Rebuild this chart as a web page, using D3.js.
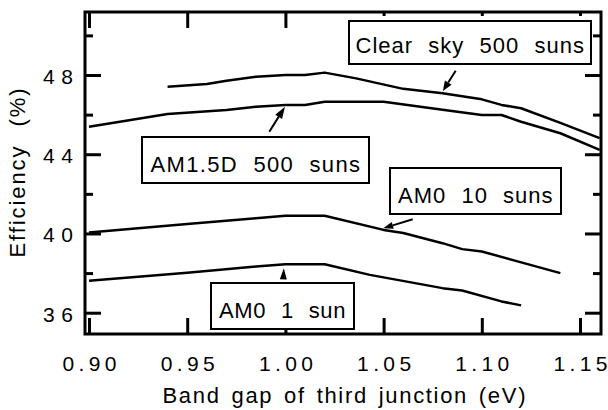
<!DOCTYPE html>
<html>
<head>
<meta charset="utf-8">
<script src="https://cdn.jsdelivr.net/npm/d3@7"></script>
<style>
  html, body { margin: 0; padding: 0; background: #fff; }
  svg text { font-family: "Liberation Sans", Arial, Helvetica, sans-serif; fill: #000; }
</style>
</head>
<body>
<svg id="chart" width="608" height="410"></svg>
<script>
// Band gap of third junction (eV) and efficiency (%) for each spectrum
const clearSkyGap = [0.94, 0.96, 0.97, 0.985, 1.00, 1.01, 1.02, 1.036, 1.06, 1.08, 1.10, 1.11, 1.12, 1.14, 1.16];
const clearSkyEff = [47.41, 47.55, 47.71, 47.91, 48.00, 48.00, 48.12, 47.83, 47.30, 47.08, 46.77, 46.49, 46.32, 45.58, 44.81];

const am15dGap = [0.90, 0.94, 0.97, 0.985, 1.00, 1.01, 1.02, 1.05, 1.08, 1.10, 1.11, 1.12, 1.14, 1.16];
const am15dEff = [45.39, 46.03, 46.23, 46.40, 46.49, 46.49, 46.65, 46.65, 46.25, 45.98, 45.98, 45.64, 45.06, 44.22];

const am0TenGap = [0.90, 0.95, 0.985, 1.00, 1.02, 1.05, 1.06, 1.08, 1.09, 1.10, 1.14];
const am0TenEff = [40.05, 40.48, 40.77, 40.89, 40.89, 40.18, 40.02, 39.51, 39.21, 39.09, 38.00];

const am0OneGap = [0.90, 0.95, 0.985, 1.00, 1.02, 1.043, 1.08, 1.09, 1.11, 1.12];
const am0OneEff = [37.61, 38.02, 38.33, 38.45, 38.45, 37.91, 37.24, 37.12, 36.57, 36.37];

const seriesNames = ["Clear sky 500 suns", "AM1.5D 500 suns", "AM0 10 suns", "AM0 1 sun"];

// Axis ticks
const xTickValues = [0.90, 0.95, 1.00, 1.05, 1.10, 1.15];
const xTickLabels = ["0.90", "0.95", "1.00", "1.05", "1.10", "1.15"];
const yTickValues = [36, 40, 44, 48];
const yTickLabels = ["36", "40", "44", "48"];
const yMinorValues = [38, 42, 46, 50];

const xTitle = "Band gap of third junction (eV)";
const yTitle = "Efficiency (%)";

// ---- layout ----
const plot = { left: 85, right: 601, top: 12, bottom: 334 };
const svg = d3.select("#chart");

const x = d3.scaleLinear().domain([0.89796, 1.16069]).range([plot.left, plot.right]);
const y = d3.scaleLinear().domain([34.925, 51.18]).range([plot.bottom, plot.top]);

const toPoints = (gx, ey) => gx.map((g, i) => [g, ey[i]]);
const series = [
  toPoints(clearSkyGap, clearSkyEff),
  toPoints(am15dGap, am15dEff),
  toPoints(am0TenGap, am0TenEff),
  toPoints(am0OneGap, am0OneEff)
];

svg.append("clipPath").attr("id", "plot-clip")
  .append("rect")
  .attr("x", plot.left).attr("y", plot.top)
  .attr("width", plot.right - plot.left).attr("height", plot.bottom - plot.top);

// ---- curves ----
const line = d3.line().x(d => x(d[0])).y(d => y(d[1]));
svg.append("g").attr("clip-path", "url(#plot-clip)")
  .selectAll("path").data(series).join("path")
  .attr("d", line)
  .attr("fill", "none")
  .attr("stroke", "#000")
  .attr("stroke-width", 2.5)
  .attr("stroke-linejoin", "round");

// ---- axes (ticks pointing inward) ----
function styleAxis(g) {
  g.select(".domain").remove();
  g.selectAll(".tick line").attr("stroke", "#000").attr("stroke-width", 3);
}

const xAxis = svg.append("g")
  .attr("transform", `translate(0,${plot.bottom})`)
  .call(d3.axisBottom(x).tickValues(xTickValues).tickSizeInner(-16).tickSizeOuter(0)
        .tickPadding(22).tickFormat((d, i) => xTickLabels[i]))
  .call(styleAxis);
xAxis.selectAll("text")
  .attr("font-size", 21)
  .attr("textLength", 54).attr("lengthAdjust", "spacing");

const yAxis = svg.append("g")
  .attr("transform", `translate(${plot.left},0)`)
  .call(d3.axisLeft(y).tickValues(yTickValues).tickSizeInner(-16).tickSizeOuter(0)
        .tickPadding(12).tickFormat((d, i) => yTickLabels[i]))
  .call(styleAxis);
yAxis.selectAll("text")
  .attr("font-size", 21)
  .attr("dy", "0.4em")
  .attr("textLength", 30).attr("lengthAdjust", "spacing");

svg.append("g")
  .attr("transform", `translate(${plot.left},0)`)
  .call(d3.axisLeft(y).tickValues(yMinorValues).tickSizeInner(-8).tickSizeOuter(0).tickFormat(""))
  .call(styleAxis);

svg.append("g")
  .attr("transform", `translate(${plot.right},0)`)
  .call(d3.axisRight(y).tickValues(yTickValues).tickSizeInner(-16).tickSizeOuter(0).tickFormat(""))
  .call(styleAxis);
svg.append("g")
  .attr("transform", `translate(${plot.right},0)`)
  .call(d3.axisRight(y).tickValues(yMinorValues).tickSizeInner(-8).tickSizeOuter(0).tickFormat(""))
  .call(styleAxis);

// top edge: long ticks on the left half, short ones on the right
svg.append("g")
  .attr("transform", `translate(0,${plot.top})`)
  .call(d3.axisTop(x).tickValues(xTickValues.slice(0, 3)).tickSizeInner(-16).tickSizeOuter(0).tickFormat(""))
  .call(styleAxis);
svg.append("g")
  .attr("transform", `translate(0,${plot.top})`)
  .call(d3.axisTop(x).tickValues(xTickValues.slice(3)).tickSizeInner(-4).tickSizeOuter(0).tickFormat(""))
  .call(styleAxis);

// frame
svg.append("rect")
  .attr("x", plot.left).attr("y", plot.top)
  .attr("width", plot.right - plot.left).attr("height", plot.bottom - plot.top)
  .attr("fill", "none").attr("stroke", "#000").attr("stroke-width", 3);

// ---- axis titles ----
svg.append("text")
  .attr("x", (plot.left + plot.right) / 2 + 1).attr("y", 403)
  .attr("text-anchor", "middle").attr("font-size", 22)
  .style("word-spacing", "3px")
  .attr("textLength", 363).attr("lengthAdjust", "spacing")
  .text(xTitle);

svg.append("text")
  .attr("transform", `translate(25,${(plot.top + plot.bottom) / 2}) rotate(-90)`)
  .attr("text-anchor", "middle").attr("font-size", 22)
  .style("word-spacing", "10px")
  .attr("textLength", 169).attr("lengthAdjust", "spacing")
  .text(yTitle);

// ---- labelled boxes with arrows to their curves ----
// box: [left, top, width, height] in px; tip in data units; tail in px
const callouts = [
  { name: seriesNames[0], box: [349, 21, 242, 43], textWidth: 229, tip: [1.0802, 47.19], tail: [455.7, 70.7], head: [10, 8] },
  { name: seriesNames[1], box: [142, 137, 227, 46], textWidth: 210, tip: [0.9998, 46.40], tail: [269.3, 131.7], head: [12, 8] },
  { name: seriesNames[2], box: [390, 168, 171, 46], textWidth: 155, tip: [1.0498, 40.26], tail: [412.7, 219.3], head: [10, 7] },
  { name: seriesNames[3], box: [211, 283, 143, 46], textWidth: 127, tip: [0.9992, 38.24], tail: [283.3, 279.3], head: [11, 7] }
];

const ann = svg.append("g");
callouts.forEach(c => {
  const [bx, by, bw, bh] = c.box;
  ann.append("rect")
    .attr("x", bx).attr("y", by).attr("width", bw).attr("height", bh)
    .attr("fill", "#fff").attr("stroke", "#000").attr("stroke-width", 2);
  ann.append("text")
    .attr("x", bx + bw / 2).attr("y", by + bh - 11)
    .attr("text-anchor", "middle").attr("font-size", 22)
    .style("word-spacing", "8px").style("letter-spacing", "0.5px")
    .attr("textLength", c.textWidth).attr("lengthAdjust", "spacing")
    .text(c.name);

  const tx = x(c.tip[0]), ty = y(c.tip[1]);
  const [sx, sy] = c.tail;
  const len = Math.hypot(tx - sx, ty - sy);
  const ux = (tx - sx) / len, uy = (ty - sy) / len;
  const [hl, hw] = c.head;
  const baseX = tx - ux * hl, baseY = ty - uy * hl;
  if (len > hl) {
    ann.append("line")
      .attr("x1", sx).attr("y1", sy).attr("x2", baseX).attr("y2", baseY)
      .attr("stroke", "#000").attr("stroke-width", 2);
  }
  const px = -uy * hw / 2, py = ux * hw / 2;
  ann.append("path")
    .attr("d", `M${tx},${ty}L${baseX + px},${baseY + py}L${baseX - px},${baseY - py}Z`)
    .attr("fill", "#000");
});
</script>
</body>
</html>
